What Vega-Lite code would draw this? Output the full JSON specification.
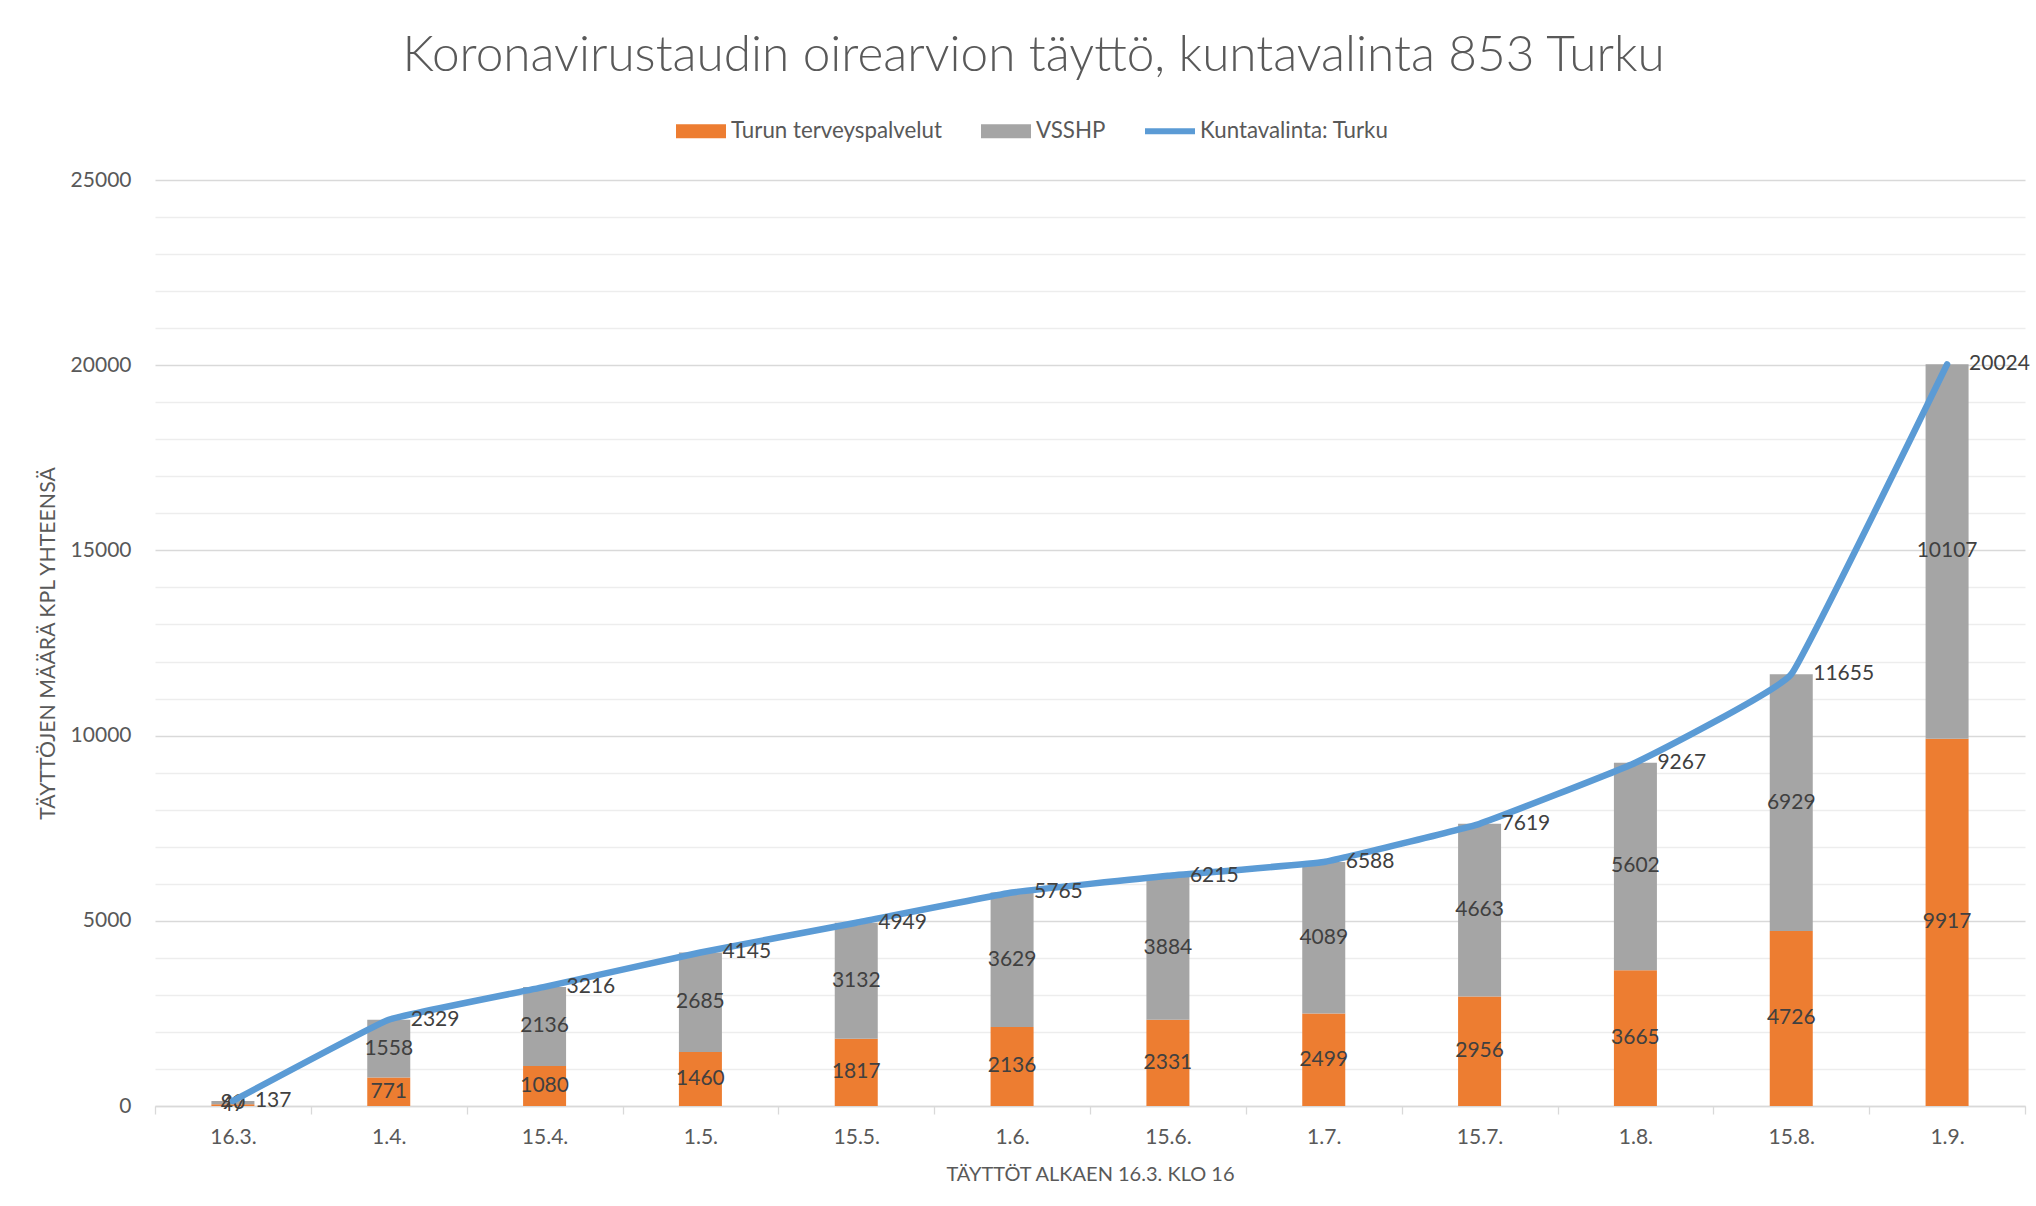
{
  "$schema": "https://vega.github.io/schema/vega-lite/v6.json",
  "width": 1870,
  "height": 926,
  "autosize": {"type": "none"},
  "padding": {"left": 155, "top": 180, "right": 11, "bottom": 100},
  "background": "#ffffff",
  "config": {"view": {"stroke": null}, "font": "Lato"},
  "title": {
    "text": "Koronavirustaudin oirearvion täyttö, kuntavalinta 853 Turku",
    "font": "Lato",
    "fontSize": 49.5,
    "fontWeight": 300,
    "color": "#595959",
    "anchor": "middle",
    "frame": "bounds",
    "offset": 25
  },
  "data": {
    "values": [
      {"date": "16.3.", "series": "Turun terveyspalvelut", "value": 47},
      {"date": "1.4.", "series": "Turun terveyspalvelut", "value": 771},
      {"date": "15.4.", "series": "Turun terveyspalvelut", "value": 1080},
      {"date": "1.5.", "series": "Turun terveyspalvelut", "value": 1460},
      {"date": "15.5.", "series": "Turun terveyspalvelut", "value": 1817},
      {"date": "1.6.", "series": "Turun terveyspalvelut", "value": 2136},
      {"date": "15.6.", "series": "Turun terveyspalvelut", "value": 2331},
      {"date": "1.7.", "series": "Turun terveyspalvelut", "value": 2499},
      {"date": "15.7.", "series": "Turun terveyspalvelut", "value": 2956},
      {"date": "1.8.", "series": "Turun terveyspalvelut", "value": 3665},
      {"date": "15.8.", "series": "Turun terveyspalvelut", "value": 4726},
      {"date": "1.9.", "series": "Turun terveyspalvelut", "value": 9917},
      {"date": "16.3.", "series": "VSSHP", "value": 90},
      {"date": "1.4.", "series": "VSSHP", "value": 1558},
      {"date": "15.4.", "series": "VSSHP", "value": 2136},
      {"date": "1.5.", "series": "VSSHP", "value": 2685},
      {"date": "15.5.", "series": "VSSHP", "value": 3132},
      {"date": "1.6.", "series": "VSSHP", "value": 3629},
      {"date": "15.6.", "series": "VSSHP", "value": 3884},
      {"date": "1.7.", "series": "VSSHP", "value": 4089},
      {"date": "15.7.", "series": "VSSHP", "value": 4663},
      {"date": "1.8.", "series": "VSSHP", "value": 5602},
      {"date": "15.8.", "series": "VSSHP", "value": 6929},
      {"date": "1.9.", "series": "VSSHP", "value": 10107},
      {"date": "16.3.", "series": "Kuntavalinta: Turku", "value": 137},
      {"date": "1.4.", "series": "Kuntavalinta: Turku", "value": 2329},
      {"date": "15.4.", "series": "Kuntavalinta: Turku", "value": 3216},
      {"date": "1.5.", "series": "Kuntavalinta: Turku", "value": 4145},
      {"date": "15.5.", "series": "Kuntavalinta: Turku", "value": 4949},
      {"date": "1.6.", "series": "Kuntavalinta: Turku", "value": 5765},
      {"date": "15.6.", "series": "Kuntavalinta: Turku", "value": 6215},
      {"date": "1.7.", "series": "Kuntavalinta: Turku", "value": 6588},
      {"date": "15.7.", "series": "Kuntavalinta: Turku", "value": 7619},
      {"date": "1.8.", "series": "Kuntavalinta: Turku", "value": 9267},
      {"date": "15.8.", "series": "Kuntavalinta: Turku", "value": 11655},
      {"date": "1.9.", "series": "Kuntavalinta: Turku", "value": 20024}
    ]
  },
  "encoding": {
    "x": {
      "field": "date",
      "type": "nominal",
      "sort": ["16.3.", "1.4.", "15.4.", "1.5.", "15.5.", "1.6.", "15.6.", "1.7.", "15.7.", "1.8.", "15.8.", "1.9."],
      "scale": {"paddingInner": 0, "paddingOuter": 0},
      "axis": {
        "title": "TÄYTTÖT ALKAEN 16.3. KLO 16",
        "labelAngle": 0,
        "labelFont": "Lato",
        "labelFontSize": 21,
        "labelColor": "#595959",
        "labelPadding": 12,
        "tickBand": "extent",
        "tickSize": 8,
        "tickColor": "#D9D9D9",
        "tickWidth": 1.3,
        "domainColor": "#D9D9D9",
        "domainWidth": 1.3,
        "grid": false,
        "titleFont": "Lato",
        "titleFontSize": 20,
        "titleFontWeight": "normal",
        "titleColor": "#595959",
        "titlePadding": 17
      }
    }
  },
  "layer": [
    {
      "transform": [{"filter": "datum.series !== 'Kuntavalinta: Turku'"}],
      "mark": {"type": "bar", "size": 43},
      "encoding": {
        "y": {
          "field": "value",
          "type": "quantitative",
          "stack": "zero",
          "scale": {"domain": [0, 25000], "nice": false},
          "axis": {
            "title": "TÄYTTÖJEN MÄÄRÄ KPL YHTEENSÄ",
            "values": [0, 1000, 2000, 3000, 4000, 5000, 6000, 7000, 8000, 9000, 10000, 11000, 12000, 13000, 14000, 15000, 16000, 17000, 18000, 19000, 20000, 21000, 22000, 23000, 24000, 25000],
            "tickCount": 100,
            "format": "d",
            "labelExpr": "datum.value % 5000 === 0 ? datum.label : ''",
            "labelOverlap": false,
            "domain": false,
            "ticks": false,
            "grid": true,
            "gridColor": {"condition": {"test": "datum.value % 5000 === 0", "value": "#D9D9D9"}, "value": "#EDEDED"},
            "gridWidth": 1.3,
            "labelPadding": 24,
            "labelFont": "Lato",
            "labelFontSize": 21,
            "labelColor": "#595959",
            "titleFont": "Lato",
            "titleFontSize": 21.3,
            "titleFontWeight": "normal",
            "titleColor": "#595959",
            "titlePadding": 12
          }
        },
        "color": {
          "field": "series",
          "type": "nominal",
          "scale": {
            "domain": ["Turun terveyspalvelut", "VSSHP", "Kuntavalinta: Turku"],
            "range": ["#ED7D31", "#A5A5A5", "#5B9BD5"]
          },
          "legend": {
            "title": null,
            "orient": "none",
            "legendX": 521,
            "legendY": -74,
            "direction": "horizontal",
            "columns": 3,
            "columnPadding": 39,
            "labelFont": "Lato",
            "labelFontSize": 22.3,
            "labelColor": "#595959",
            "labelOffset": 5,
            "labelLimit": 0,
            "symbolSize": 2500,
            "encode": {
              "symbols": {
                "update": {
                  "shape": {"signal": "datum.value === 'Kuntavalinta: Turku' ? 'M-1,-0.12H1V0.12H-1Z' : 'M-1,-0.28H1V0.28H-1Z'"},
                  "size": {"value": 2500},
                  "fill": {"scale": "color", "field": "value"},
                  "fillOpacity": {"value": 1},
                  "opacity": {"value": 1},
                  "strokeWidth": {"value": 0}
                }
              }
            }
          }
        },
        "order": {"field": "series", "type": "nominal", "sort": "ascending"}
      }
    },
    {
      "transform": [{"filter": "datum.series !== 'Kuntavalinta: Turku'"}],
      "mark": {"type": "text", "font": "Lato", "fontSize": 21, "color": "#404040", "baseline": "middle"},
      "encoding": {
        "y": {"field": "value", "type": "quantitative", "stack": "zero", "bandPosition": 0.5},
        "detail": {"field": "series"},
        "order": {"field": "series", "type": "nominal", "sort": "ascending"},
        "text": {"field": "value", "type": "quantitative", "format": "d"}
      }
    },
    {
      "transform": [{"filter": "datum.series === 'Kuntavalinta: Turku'"}],
      "mark": {"type": "line", "strokeWidth": 6.5, "strokeCap": "round", "strokeJoin": "round", "interpolate": "cardinal", "tension": 0.75},
      "encoding": {
        "y": {"field": "value", "type": "quantitative"},
        "color": {"field": "series", "type": "nominal"}
      }
    },
    {
      "transform": [{"filter": "datum.series === 'Kuntavalinta: Turku'"}],
      "mark": {"type": "text", "font": "Lato", "fontSize": 21, "color": "#404040", "align": "left", "baseline": "middle", "dx": 22},
      "encoding": {
        "y": {"field": "value", "type": "quantitative"},
        "text": {"field": "value", "type": "quantitative", "format": "d"}
      }
    }
  ]
}
